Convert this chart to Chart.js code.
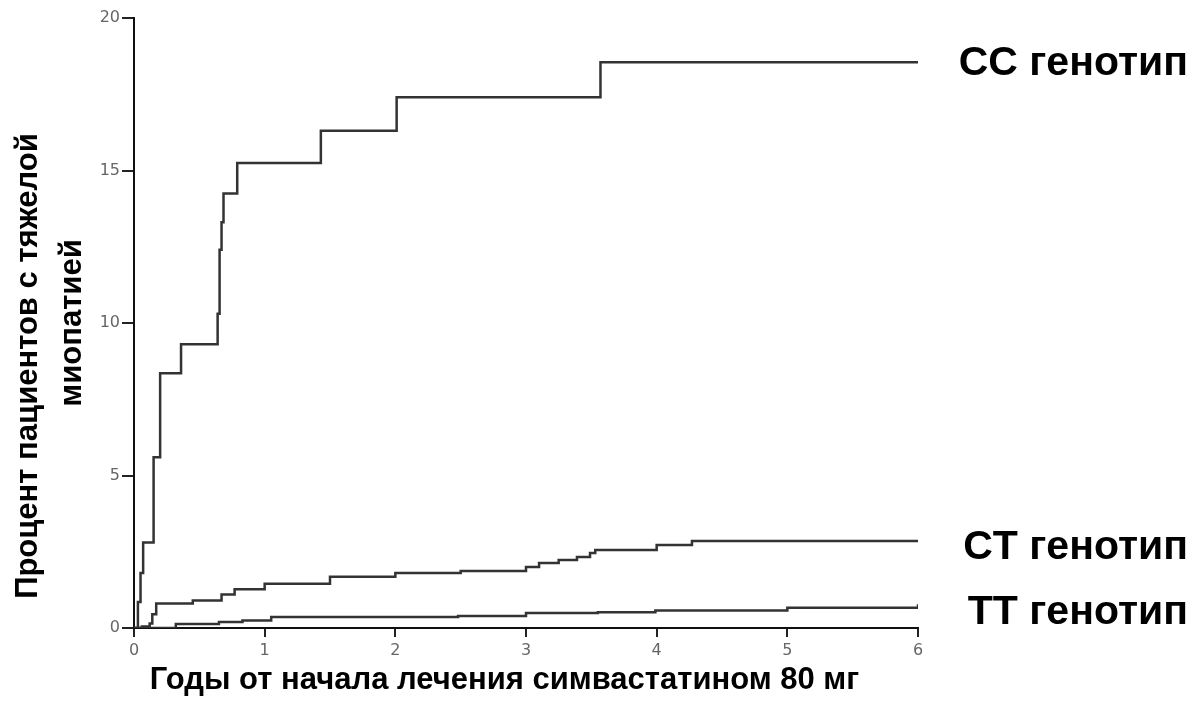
<!DOCTYPE html>
<html>
<head>
<meta charset="utf-8">
<script src="https://cdn.jsdelivr.net/npm/chart.js@4"></script>
<style>
  body { margin: 0; background: #fff; }
</style>
</head>
<body>
<canvas id="chart" width="1196" height="702"></canvas>
<script>
// Кривые накопленной частоты миопатии (годы -> %)
const ccYears  = [0, 0.03, 0.05, 0.07, 0.15, 0.2, 0.36, 0.64, 0.655, 0.67, 0.685, 0.79, 1.43, 2.01, 3.57, 6];
const ccValues = [0, 0.85, 1.8, 2.8, 5.6, 8.35, 9.3, 10.3, 12.4, 13.3, 14.25, 15.25, 16.3, 17.4, 18.55, 18.55];

const ctYears  = [0, 0.06, 0.12, 0.14, 0.17, 0.45, 0.67, 0.77, 1.0, 1.5, 2.0, 2.5, 3.0, 3.1, 3.25, 3.39, 3.49, 3.53, 4.0, 4.27, 6];
const ctValues = [0, 0.05, 0.15, 0.45, 0.8, 0.9, 1.1, 1.27, 1.45, 1.68, 1.8, 1.87, 2.0, 2.13, 2.23, 2.33, 2.46, 2.56, 2.72, 2.85, 2.85];

const ttYears  = [0, 0.32, 0.65, 0.83, 1.05, 2.48, 3.0, 3.55, 3.99, 5.0, 6];
const ttValues = [0, 0.13, 0.2, 0.25, 0.36, 0.39, 0.49, 0.52, 0.57, 0.66, 0.78];

const genotypeLabels = ['CC генотип', 'CT генотип', 'TT генотип'];
const genotypeLabelY = [18.5, 2.62, 0.49];

const xTitle = 'Годы от начала лечения симвастатином 80 мг';
const yTitle = ['Процент пациентов с тяжелой', 'миопатией'];

function toPoints(xs, ys) {
    return xs.map((x, i) => ({ x: x, y: ys[i] }));
}

function curve(xs, ys) {
    return {
        data: toPoints(xs, ys),
        stepped: 'before',
        borderColor: '#333',
        borderWidth: 2.5,
        pointRadius: 0,
        fill: false
    };
}

// подписи генотипов справа от графика
const genotypeText = {
    id: 'genotypeText',
    afterDraw(chart) {
        const ctx = chart.ctx;
        const y = chart.scales.y;
        ctx.save();
        ctx.font = 'bold 41px "Liberation Sans", Arial, sans-serif';
        ctx.fillStyle = '#000';
        ctx.textAlign = 'right';
        ctx.textBaseline = 'middle';
        genotypeLabels.forEach((t, i) => {
            ctx.fillText(t, 1188, y.getPixelForValue(genotypeLabelY[i]));
        });
        ctx.restore();
    }
};

const tickFont = { family: '"DejaVu Sans", Verdana, sans-serif', size: 16 };

new Chart(document.getElementById('chart'), {
    type: 'line',
    data: {
        datasets: [
            curve(ccYears, ccValues),
            curve(ctYears, ctValues),
            curve(ttYears, ttValues)
        ]
    },
    options: {
        responsive: false,
        animation: false,
        layout: { padding: { top: 18, right: 278, left: 0, bottom: 0 } },
        plugins: {
            legend: { display: false },
            tooltip: { enabled: false }
        },
        scales: {
            x: {
                type: 'linear',
                min: 0,
                max: 6,
                ticks: { stepSize: 1, color: '#666', font: tickFont, padding: 4, maxRotation: 0 },
                grid: { drawOnChartArea: false, tickLength: 9, color: '#222', lineWidth: 2 },
                border: { color: '#111', width: 2 },
                title: {
                    display: true,
                    text: xTitle + '\u00a0\u00a0\u00a0\u00a0\u00a0',
                    color: '#000',
                    font: { family: '"Liberation Sans", Arial, sans-serif', size: 31, weight: 'bold' },
                    padding: { top: 0, bottom: 3 }
                },
                afterFit(scale) { scale.height = 74; }
            },
            y: {
                min: 0,
                max: 20,
                ticks: { stepSize: 5, color: '#666', font: tickFont, padding: 2 },
                grid: { drawOnChartArea: false, tickLength: 12, color: '#222', lineWidth: 2 },
                border: { color: '#111', width: 2 },
                title: {
                    display: true,
                    text: [yTitle[0] + '\u00a0'.repeat(10), yTitle[1]],
                    color: '#000',
                    font: { family: '"Liberation Sans", Arial, sans-serif', size: 31, weight: 'bold', lineHeight: 1.42 },
                    padding: { top: 6, bottom: 0 }
                },
                afterFit(scale) { scale.width = 134; }
            }
        }
    },
    plugins: [genotypeText]
});
</script>
</body>
</html>
